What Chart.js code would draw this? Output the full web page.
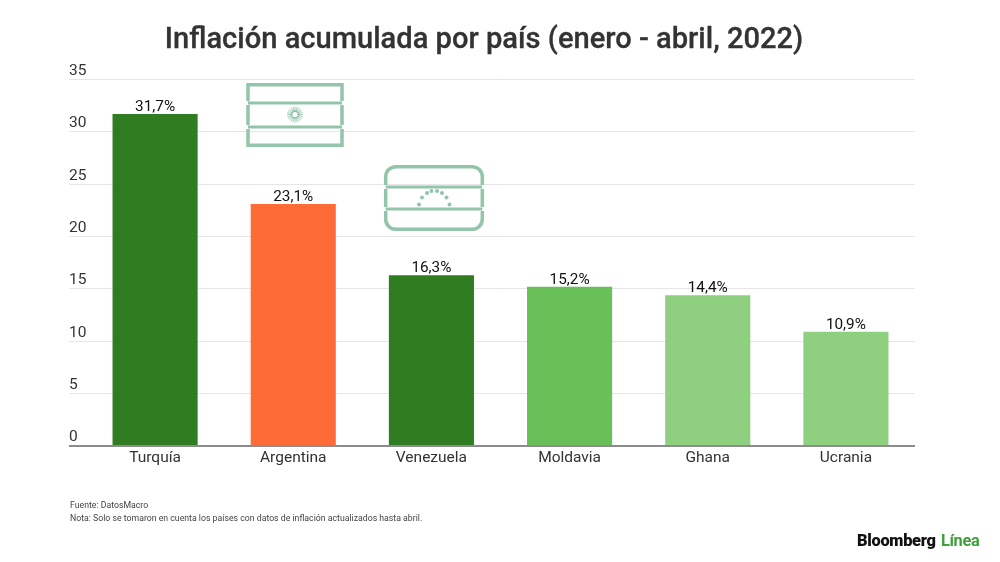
<!DOCTYPE html>
<html lang="es">
<head>
<meta charset="UTF-8">
<title>Inflación acumulada por país</title>
<script src="https://cdn.jsdelivr.net/npm/chart.js@4.4.3/dist/chart.umd.min.js"></script>
<style>
  * { box-sizing: border-box; margin: 0; padding: 0; }
  body { width: 1000px; height: 562px; background: #fff; font-family: Roboto, sans-serif; position: relative; overflow: hidden; }
  #wrap { position: absolute; left: 0; top: 0; width: 1000px; height: 562px; }
  .title { position: absolute; left: 0; width: 968px; top: 21px; text-align: center; font-size: 29.100px; font-weight: 500; color: #333; white-space: nowrap; -webkit-text-stroke: 0.3px #333; }
  .note { position: absolute; left: 70px; font-size: 8.720px; color: #444; white-space: nowrap; }
  .logo { position: absolute; left: 857px; top: 531px; font-size: 16.400px; font-weight: 900; color: #111; white-space: nowrap; letter-spacing: -0.3px; word-spacing: 1.500px; }
  .logo span { color: #3f9f3c; font-weight: 700; }
  svg.flag { position: absolute; left: 0; top: 0; }
</style>
</head>
<body>
<div id="wrap"><canvas id="chart" width="1000" height="562"></canvas></div>
<svg class="flag" width="1000" height="562" fill="none" stroke="#93c5aa" stroke-width="3.500">
  <!-- Argentina -->
  <path d="M248 101V84.700H342V101M248 105V125M342 105V125M248 129V145.300H342V129"/>
  <path d="M248 103H342M248 127H342" stroke-width="3"/>
  <g id="sun"></g>
  <!-- Venezuela -->
  <path d="M385.700 185V177A10 10 0 0 1 395.700 166.700H472.300A10 10 0 0 1 482.300 177V185M385.700 189V207M482.300 189V207M385.700 211V219A10 10 0 0 0 395.700 229.300H472.300A10 10 0 0 0 482.300 219V211"/>
  <path d="M385.700 187H482.300M385.700 209H482.300" stroke-width="3"/>
  <g fill="#93c5aa" stroke="none">
    <circle cx="419" cy="204.500" r="2"/><circle cx="422" cy="197.500" r="2"/><circle cx="427" cy="193" r="2"/><circle cx="431.500" cy="191" r="2"/>
    <circle cx="437" cy="191" r="2"/><circle cx="442" cy="193" r="2"/><circle cx="446.500" cy="197.500" r="2"/><circle cx="449.500" cy="204.500" r="2"/>
  </g>
</svg>
<div class="title">Inflación acumulada por país (enero - abril, 2022)</div>
<div class="note" style="top:500px">Fuente: DatosMacro</div>
<div class="note" style="top:513px">Nota: Solo se tomaron en cuenta los países con datos de inflación actualizados hasta abril.</div>
<div class="logo">Bloomberg <span>Línea</span></div>
<script>
const categories = ['Turquía', 'Argentina', 'Venezuela', 'Moldavia', 'Ghana', 'Ucrania'];
const inflation = [31.7, 23.1, 16.3, 15.2, 14.4, 10.9];
const barColors = ['#2f7d20', '#ff6b37', '#2f7d20', '#69bf58', '#8fcf80', '#8fcf80'];
const yTicks = [0, 5, 10, 15, 20, 25, 30, 35];

// sun rays on the argentine flag
const sun = document.getElementById('sun');
let rays = '';
for (let a = 0; a < 360; a += 15) {
  const r = a * Math.PI / 180;
  rays += `<line x1="${295 + 4 * Math.cos(r)}" y1="${114.5 + 4 * Math.sin(r)}" x2="${295 + 8 * Math.cos(r)}" y2="${114.5 + 8 * Math.sin(r)}" stroke-width="0.8"/>`;
}
sun.innerHTML = rays + '<circle cx="295" cy="114.500" r="3.500" stroke-width="1.800"/>';

const valueLabels = {
  id: 'valueLabels',
  afterDatasetsDraw(chart) {
    const ctx = chart.ctx;
    ctx.save();
    ctx.font = '400 15.300px Roboto';
    ctx.fillStyle = '#111';
    ctx.textAlign = 'center';
    ctx.textBaseline = 'bottom';
    chart.getDatasetMeta(0).data.forEach((bar, i) => {
      ctx.fillText(inflation[i].toFixed(1).replace('.', ',') + '%', bar.x, bar.y + 0.5);
    });
    ctx.restore();
  }
};

new Chart(document.getElementById('chart'), {
  type: 'bar',
  data: {
    labels: categories,
    datasets: [{ data: inflation, backgroundColor: barColors, borderWidth: 0, barPercentage: 0.616, categoryPercentage: 1 }]
  },
  options: {
    responsive: false,
    animation: false,
    layout: { padding: { left: 69, right: 85, top: 79.500, bottom: 85 } },
    plugins: { legend: { display: false }, tooltip: { enabled: false } },
    scales: {
      x: {
        grid: { display: false, drawTicks: false },
        border: { display: false },
        ticks: { color: '#333', font: { family: 'Roboto', size: 15.500 }, padding: 2.500, maxRotation: 0 },
        afterFit: s => { s.height = 31; }
      },
      y: {
        min: 0,
        max: 35,
        afterBuildTicks: s => { s.ticks = yTicks.map(value => ({ value })); },
        grid: {
          tickLength: 17,
          color: c => c.tick.value === 0 ? '#8c8c8c' : '#e6e6e6',
          tickColor: c => c.tick.value === 0 ? '#8c8c8c' : '#e6e6e6',
          lineWidth: c => c.tick.value === 0 ? 2 : 1,
          tickWidth: c => c.tick.value === 0 ? 2 : 1
        },
        border: { display: false },
        ticks: { color: '#333', font: { family: 'Roboto', size: 15.500 }, crossAlign: 'far', labelOffset: -8.500, padding: 0 },
        afterFit: s => { s.width = 17; }
      }
    }
  },
  plugins: [valueLabels]
});
</script>
</body>
</html>
